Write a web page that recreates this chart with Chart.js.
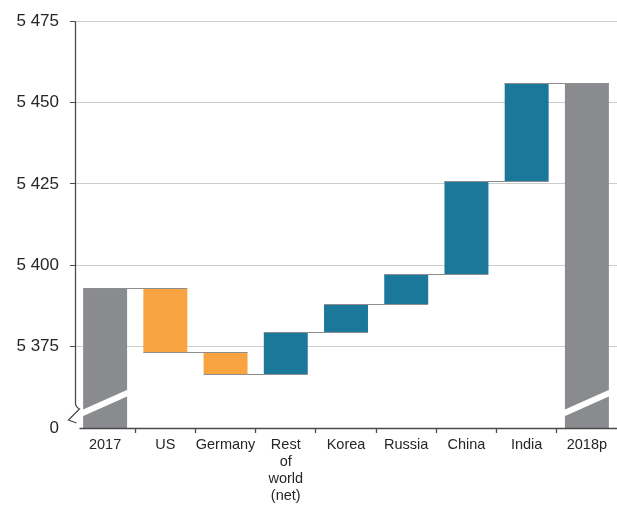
<!DOCTYPE html>
<html>
<head>
<meta charset="utf-8">
<script src="https://cdn.jsdelivr.net/npm/chart.js@4.4.1/dist/chart.umd.min.js"></script>
<style>
  body { margin: 0; background: #fff; }
  #wrap { width: 617px; height: 505px; }
</style>
</head>
<body>
<div id="wrap"><canvas id="chart"></canvas></div>
<script>
// DATA
const categories = ["2017", "US", "Germany", ["Rest", "of", "world", "(net)"], "Korea", "Russia", "China", "India", "2018p"];
// running total after 2017 and after each country (the last one is 2018p)
const levels = [5392.9, 5373.2, 5366.6, 5379.5, 5388.1, 5397.2, 5425.9, 5456.0];
const axisBase = 5350; // shown as "0" (broken axis)
const yTicks = [5350, 5375, 5400, 5425, 5450, 5475];
const yTickLabels = ["0", "5 375", "5 400", "5 425", "5 450", "5 475"];

const GREY = "#8a8b8f";
const ORANGE = "#f8a441";
const TEAL = "#1c789a";
const AXIS = "#4a4a4a";

// BUILD BARS
const barData = [];
const barColors = [];
barData.push([axisBase, levels[0]]);
barColors.push(GREY);
for (let i = 1; i < levels.length; i++) {
  barData.push([levels[i - 1], levels[i]]);
  barColors.push(levels[i] < levels[i - 1] ? ORANGE : TEAL);
}
barData.push([axisBase, levels[levels.length - 1]]);
barColors.push(GREY);

// connectors, break marks and axis lines
const decor = {
  id: "decor",
  afterDatasetsDraw(chart) {
    const { ctx, chartArea, scales: { y } } = chart;
    const bars = chart.getDatasetMeta(0).data;
    ctx.save();

    ctx.strokeStyle = "#8e8e8e";
    ctx.lineWidth = 1;
    for (let i = 0; i < levels.length; i++) {
      const a = bars[i], b = bars[i + 1];
      const py = Math.round(y.getPixelForValue(levels[i])) + 0.5;
      ctx.beginPath();
      ctx.moveTo(a.x - a.width / 2, py);
      ctx.lineTo(b.x + b.width / 2, py);
      ctx.stroke();
    }

    // white slash on total bars
    ctx.strokeStyle = "#fff";
    ctx.lineWidth = 6;
    [0, bars.length - 1].forEach(i => {
      const b = bars[i];
      ctx.beginPath();
      ctx.moveTo(b.x - b.width / 2 - 1, y.getPixelForValue(5354.5));
      ctx.lineTo(b.x + b.width / 2 + 1, y.getPixelForValue(5360.8));
      ctx.stroke();
    });

    // y axis with break
    const x0 = chartArea.left + 0.5;
    const yb = chartArea.bottom;
    ctx.strokeStyle = AXIS;
    ctx.lineWidth = 1.3;
    ctx.beginPath();
    ctx.moveTo(x0, chartArea.top);
    ctx.lineTo(x0, yb - 25);
    ctx.quadraticCurveTo(x0, yb - 21, x0 + 4, yb - 19);
    ctx.lineTo(x0 - 7, yb - 8);
    ctx.lineTo(x0 + 1, yb - 5);
    ctx.stroke();

    // x axis
    ctx.lineWidth = 1.5;
    ctx.beginPath();
    ctx.moveTo(x0 + 4, yb + 0.5);
    ctx.lineTo(chartArea.right + 1, yb + 0.5);
    ctx.stroke();
    ctx.restore();
  }
};

new Chart(document.getElementById("chart"), {
  type: "bar",
  data: {
    labels: categories,
    datasets: [{
      data: barData,
      backgroundColor: barColors,
      borderWidth: 0,
      barPercentage: 0.73,
      categoryPercentage: 1
    }]
  },
  options: {
    responsive: true,
    maintainAspectRatio: false,
    animation: false,
    layout: { padding: { top: 21, right: 0, bottom: 0, left: 0 } },
    plugins: { legend: { display: false }, tooltip: { enabled: false } },
    scales: {
      x: {
        border: { display: false },
        grid: {
          offset: true,
          drawOnChartArea: false,
          tickLength: 5,
          tickWidth: 1.3,
          tickColor: ctx => (ctx.index === undefined || ctx.index === 0) ? "transparent" : AXIS
        },
        ticks: {
          color: "#262626",
          padding: 4,
          maxRotation: 0,
          autoSkip: false,
          font: { family: "'Liberation Sans', Arial, sans-serif", size: 14.5, lineHeight: 1.17 }
        },
        afterFit: scale => { scale.height = 77; }
      },
      y: {
        min: axisBase,
        max: 5475,
        border: { display: false },
        grid: {
          color: ctx => ctx.tick && ctx.tick.value === axisBase ? "transparent" : "#cdcdcd",
          lineWidth: 1,
          tickLength: 5,
          tickColor: ctx => ctx.tick && ctx.tick.value === axisBase ? "transparent" : AXIS
        },
        ticks: {
          stepSize: 25,
          color: "#262626",
          padding: 11,
          font: { family: "'Liberation Sans', Arial, sans-serif", size: 17 },
          callback: value => yTickLabels[yTicks.indexOf(value)]
        },
        afterFit: scale => { scale.width = 75; }
      }
    }
  },
  plugins: [decor]
});
</script>
</body>
</html>
